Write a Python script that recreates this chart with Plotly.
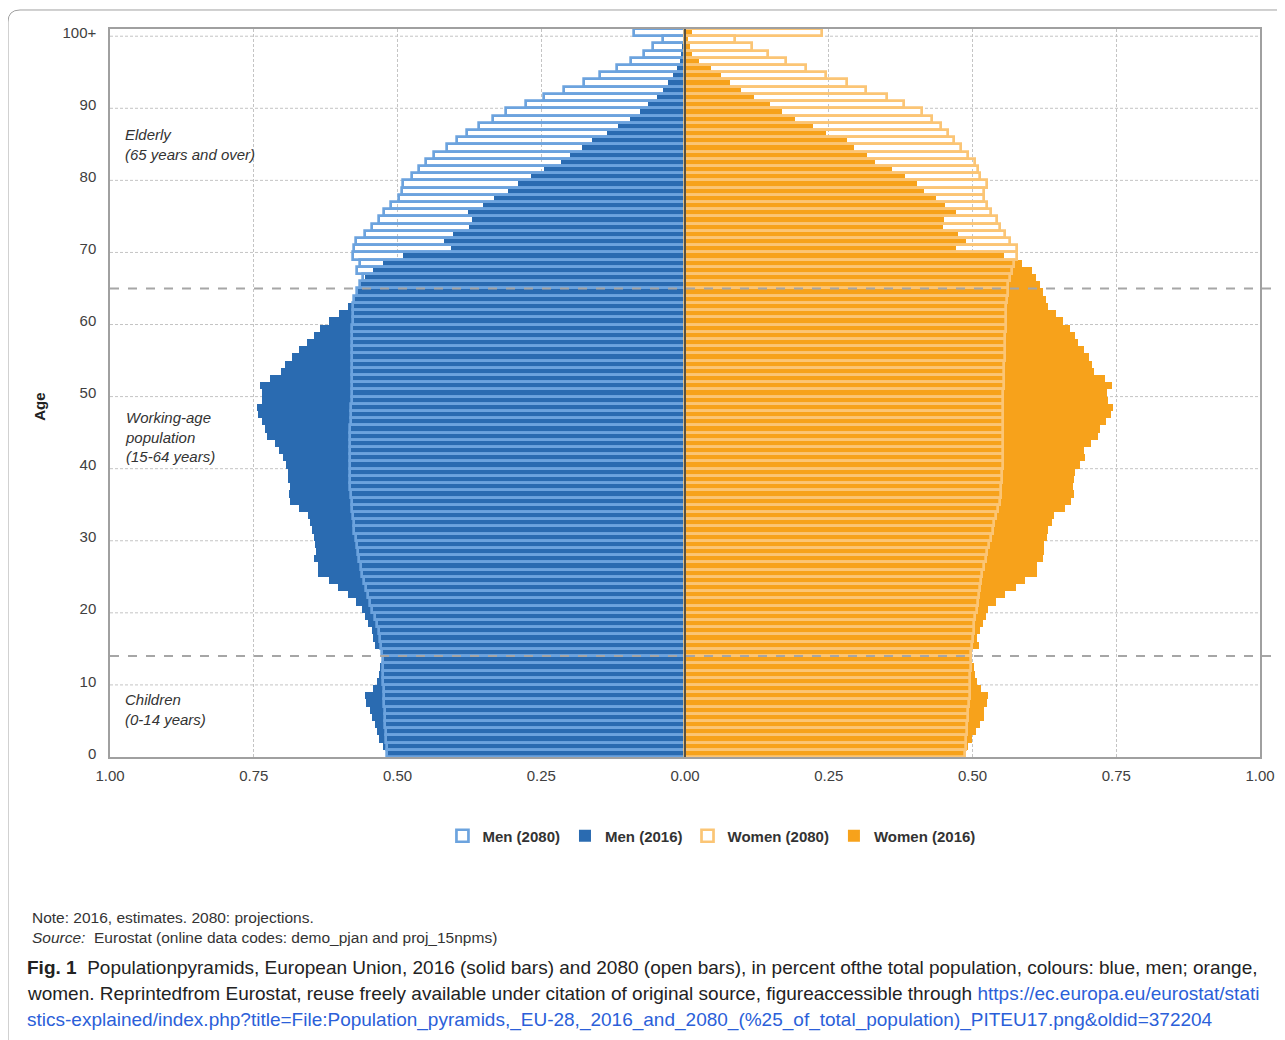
import plotly.graph_objects as go

ages = list(range(101))
age_tick_vals = [0, 10, 20, 30, 40, 50, 60, 70, 80, 90, 100]
age_tick_text = ["0", "10", "20", "30", "40", "50", "60", "70", "80", "90", "100+"]
x_tick_vals = [-1.0, -0.75, -0.5, -0.25, 0.0, 0.25, 0.5, 0.75, 1.0]
x_tick_text = ["1.00", "0.75", "0.50", "0.25", "0.00", "0.25", "0.50", "0.75", "1.00"]

men_2016 = [0.519, 0.525, 0.532, 0.536, 0.539, 0.545, 0.548, 0.554, 0.557, 0.542,
            0.536, 0.533, 0.530, 0.527, 0.528, 0.539, 0.543, 0.545, 0.551, 0.557,
            0.562, 0.572, 0.586, 0.603, 0.619, 0.638, 0.639, 0.645, 0.642, 0.643,
            0.646, 0.649, 0.653, 0.655, 0.672, 0.687, 0.688, 0.687, 0.690, 0.691,
            0.694, 0.699, 0.706, 0.713, 0.727, 0.730, 0.736, 0.742, 0.744, 0.735,
            0.735, 0.739, 0.722, 0.703, 0.696, 0.684, 0.672, 0.658, 0.646, 0.634,
            0.620, 0.601, 0.586, 0.577, 0.568, 0.563, 0.556, 0.542, 0.525, 0.490,
            0.407, 0.419, 0.404, 0.375, 0.371, 0.377, 0.352, 0.332, 0.308, 0.291,
            0.268, 0.245, 0.216, 0.200, 0.180, 0.162, 0.136, 0.116, 0.095, 0.079,
            0.064, 0.048, 0.039, 0.029, 0.021, 0.014, 0.009, 0.007, 0.005, 0.004,
            0.004]

men_2080 = [0.518, 0.519, 0.520, 0.520, 0.521, 0.522, 0.522, 0.523, 0.523, 0.524,
            0.525, 0.525, 0.526, 0.526, 0.527, 0.528, 0.530, 0.532, 0.536, 0.540,
            0.544, 0.548, 0.552, 0.555, 0.558, 0.562, 0.564, 0.567, 0.569, 0.571,
            0.573, 0.575, 0.576, 0.578, 0.579, 0.580, 0.581, 0.582, 0.582, 0.583,
            0.583, 0.583, 0.583, 0.582, 0.582, 0.582, 0.581, 0.581, 0.581, 0.580,
            0.580, 0.580, 0.580, 0.580, 0.580, 0.580, 0.580, 0.579, 0.579, 0.579,
            0.578, 0.578, 0.577, 0.575, 0.570, 0.565, 0.560, 0.570, 0.566, 0.577,
            0.576, 0.572, 0.557, 0.545, 0.533, 0.523, 0.511, 0.498, 0.493, 0.491,
            0.475, 0.462, 0.450, 0.437, 0.414, 0.397, 0.379, 0.359, 0.334, 0.311,
            0.277, 0.245, 0.210, 0.176, 0.147, 0.118, 0.094, 0.072, 0.055, 0.039,
            0.089]

women_2016 = [0.489, 0.493, 0.499, 0.506, 0.513, 0.520, 0.520, 0.526, 0.527, 0.515,
              0.508, 0.504, 0.503, 0.499, 0.499, 0.512, 0.508, 0.513, 0.518, 0.523,
              0.527, 0.541, 0.557, 0.576, 0.591, 0.612, 0.612, 0.623, 0.624, 0.624,
              0.629, 0.632, 0.638, 0.642, 0.661, 0.672, 0.677, 0.675, 0.677, 0.678,
              0.687, 0.696, 0.694, 0.706, 0.719, 0.722, 0.732, 0.740, 0.745, 0.736,
              0.734, 0.743, 0.730, 0.712, 0.708, 0.703, 0.694, 0.684, 0.678, 0.669,
              0.658, 0.646, 0.632, 0.628, 0.622, 0.617, 0.610, 0.604, 0.586, 0.555,
              0.471, 0.489, 0.475, 0.449, 0.451, 0.471, 0.453, 0.436, 0.416, 0.403,
              0.383, 0.360, 0.330, 0.316, 0.294, 0.281, 0.246, 0.222, 0.191, 0.168,
              0.147, 0.120, 0.098, 0.078, 0.062, 0.045, 0.025, 0.013, 0.008, 0.006,
              0.012]

women_2080 = [0.487, 0.488, 0.489, 0.490, 0.491, 0.492, 0.493, 0.494, 0.495, 0.495,
              0.496, 0.496, 0.497, 0.497, 0.498, 0.499, 0.500, 0.502, 0.503, 0.505,
              0.507, 0.509, 0.511, 0.513, 0.515, 0.517, 0.520, 0.523, 0.526, 0.529,
              0.532, 0.535, 0.538, 0.541, 0.544, 0.547, 0.549, 0.550, 0.551, 0.552,
              0.553, 0.553, 0.553, 0.553, 0.553, 0.553, 0.553, 0.553, 0.553, 0.553,
              0.553, 0.554, 0.554, 0.555, 0.555, 0.556, 0.556, 0.557, 0.557, 0.558,
              0.558, 0.559, 0.559, 0.560, 0.561, 0.562, 0.565, 0.568, 0.573, 0.578,
              0.578, 0.565, 0.557, 0.548, 0.542, 0.533, 0.526, 0.520, 0.520, 0.526,
              0.513, 0.509, 0.504, 0.493, 0.480, 0.468, 0.457, 0.446, 0.429, 0.412,
              0.381, 0.352, 0.315, 0.281, 0.246, 0.210, 0.176, 0.145, 0.116, 0.087,
              0.238]

age_group_lines = [64.5, 13.5]

C_M16 = "#2A6BB1"
C_M80 = "#6CA3DE"
C_F16 = "#F7A21B"
C_F80 = "#FBC575"
FONT = "Liberation Sans, Arial, sans-serif"
GRID = "#C4C4C4"

fig = go.Figure()
fig.add_trace(go.Bar(y=ages, x=[-v for v in men_2016], orientation="h", width=1,
                     name="Men (2016)", legendrank=2,
                     marker=dict(color=C_M16, line=dict(width=0))))
fig.add_trace(go.Bar(y=ages, x=women_2016, orientation="h", width=1,
                     name="Women (2016)", legendrank=4,
                     marker=dict(color=C_F16, line=dict(width=0))))
fig.add_trace(go.Bar(y=ages, x=[-v for v in men_2080], orientation="h", width=1,
                     name="Men (2080)", legendrank=1,
                     marker=dict(color="rgba(255,255,255,0)", line=dict(color=C_M80, width=2.7))))
fig.add_trace(go.Bar(y=ages, x=women_2080, orientation="h", width=1,
                     name="Women (2080)", legendrank=3,
                     marker=dict(color="rgba(255,255,255,0)", line=dict(color=C_F80, width=2.7))))

shapes = []
for v in age_tick_vals[1:]:
    shapes.append(dict(type="line", xref="x", yref="y", x0=-1, x1=1, y0=v - 0.5, y1=v - 0.5,
                       line=dict(color=GRID, width=1, dash="3px,2px"), layer="below"))
for v in age_group_lines:
    shapes.append(dict(type="line", xref="paper", yref="y", x0=0, x1=1.02, y0=v, y1=v,
                       line=dict(color="#A6A6A6", width=2, dash="dash"), layer="above"))
shapes.append(dict(type="line", xref="x", yref="y", x0=0, x1=0, y0=-0.5, y1=100.5,
                   line=dict(color="#1E2A38", width=1.5), layer="above"))
shapes.append(dict(type="path", xref="paper", yref="paper",
                   path="M -0.0887 -0.42 L -0.0887 1.0096 Q -0.0887 1.0261 -0.0783 1.0261 L 1.04 1.0261",
                   line=dict(color="#A0A0A0", width=1)))

annotations = [
    dict(x=0.0113, y=0.870, xref="paper", yref="paper", xanchor="left", yanchor="top",
         align="left", showarrow=False, text="<i>Elderly<br>(65 years and over)</i>",
         font=dict(family=FONT, size=15, color="#333333")),
    dict(x=0.0113, y=0.481, xref="paper", yref="paper", xanchor="left", yanchor="top",
         align="left", showarrow=False, text="<i>Working-age<br>population<br>(15-64 years)</i>",
         font=dict(family=FONT, size=15, color="#333333")),
    dict(x=0.0113, y=0.093, xref="paper", yref="paper", xanchor="left", yanchor="top",
         align="left", showarrow=False, text="<i>Children<br>(0-14 years)</i>",
         font=dict(family=FONT, size=15, color="#333333")),
    dict(x=-0.0609, y=0.481, xref="paper", yref="paper", xanchor="center", yanchor="middle",
         textangle=-90, showarrow=False,
         text="<b>Age</b>", font=dict(family=FONT, size=15, color="#222222")),
    dict(x=-0.0696, y=-0.2198, xref="paper", yref="paper", xanchor="left", yanchor="middle",
         showarrow=False, text="Note: 2016, estimates. 2080: projections.",
         font=dict(family=FONT, size=15.5, color="#333333")),
    dict(x=-0.0696, y=-0.2486, xref="paper", yref="paper", xanchor="left", yanchor="middle",
         showarrow=False,
         text="<i>Source:</i>  Eurostat (online data codes: demo_pjan and proj_15npms)",
         font=dict(family=FONT, size=15.5, color="#333333")),
    dict(x=-0.0739, y=-0.2885, xref="paper", yref="paper", xanchor="left", yanchor="middle",
         showarrow=False,
         text="<b>Fig. 1</b>  Populationpyramids, European Union, 2016 (solid bars) and 2080 (open bars), in percent ofthe total population, colours: blue, men; orange,",
         font=dict(family=FONT, size=19, color="#222222")),
    dict(x=-0.0739, y=-0.3242, xref="paper", yref="paper", xanchor="left", yanchor="middle",
         showarrow=False,
         text="women. Reprintedfrom Eurostat, reuse freely available under citation of original source, figureaccessible through <span style='color:#2B5FD9'>https://ec.europa.eu/eurostat/stati</span>",
         font=dict(family=FONT, size=19, color="#222222")),
    dict(x=-0.0739, y=-0.3613, xref="paper", yref="paper", xanchor="left", yanchor="middle",
         showarrow=False,
         text="stics-explained/index.php?title=File:Population_pyramids,_EU-28,_2016_and_2080_(%25_of_total_population)_PITEU17.png&oldid=372204",
         font=dict(family=FONT, size=19, color="#2B5FD9")),
]

fig.update_layout(
    width=1285, height=1040,
    margin=dict(l=102, r=33, t=21, b=291),
    paper_bgcolor="white", plot_bgcolor="white",
    barmode="overlay", bargap=0,
    font=dict(family=FONT, size=15, color="#404040"),
    showlegend=True,
    legend=dict(orientation="h", x=0.523, y=-0.1085, xanchor="center", yanchor="middle",
                font=dict(family=FONT, size=15, color="#333333", weight="bold"),
                traceorder="normal", itemwidth=30),
    xaxis=dict(range=[-1, 1], tickvals=x_tick_vals, ticktext=x_tick_text,
               showgrid=True, gridcolor=GRID, griddash="3px,2px", gridwidth=1,
               zeroline=False, showline=True, linecolor="#A0A0A0", linewidth=1.5, mirror=True,
               ticks="", ticklabelstandoff=4, fixedrange=True),
    yaxis=dict(range=[-0.5, 100.5], tickvals=age_tick_vals, ticktext=age_tick_text,
               showgrid=False, zeroline=False, showline=True, linecolor="#A0A0A0",
               linewidth=1.5, mirror=True, ticks="", ticklabelstandoff=9, fixedrange=True),
    shapes=shapes,
    annotations=annotations,
)

fig.write_html("out.html")
